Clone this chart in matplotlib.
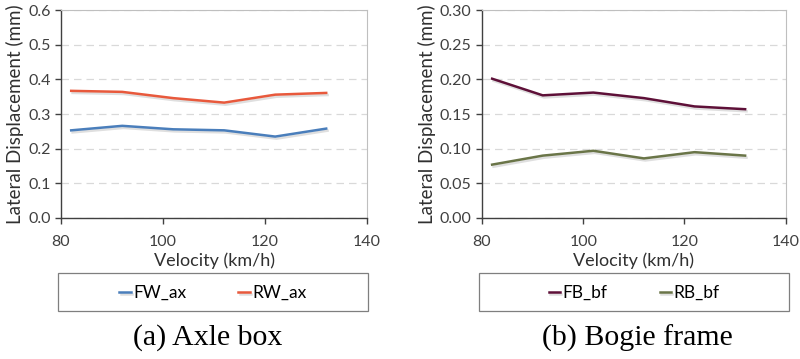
import matplotlib as mpl
mpl.use("agg")
import matplotlib.pyplot as plt
import matplotlib.patheffects as pe
from matplotlib.patches import Rectangle

velocity = [82, 92, 102, 112, 122, 132]

fw_ax = [0.253, 0.266, 0.256, 0.253, 0.235, 0.258]
rw_ax = [0.367, 0.364, 0.346, 0.333, 0.356, 0.361]

fb_bf = [0.201, 0.177, 0.181, 0.173, 0.161, 0.157]
rb_bf = [0.077, 0.090, 0.097, 0.086, 0.095, 0.090]

plt.rcParams['font.family'] = ['Lato', 'DejaVu Sans']

fig = plt.figure(figsize=(8, 3.59), dpi=100)

shadow = [pe.SimpleLineShadow(offset=(1, -1.5), alpha=0.25, shadow_color='gray'), pe.Normal()]


def style_axes(ax, yticks, fmt):
    ax.set_xlim(80, 140)
    ax.set_xticks([80, 100, 120, 140])
    ax.set_ylim(yticks[0], yticks[-1])
    ax.set_yticks(yticks)
    ax.set_yticklabels([fmt % v for v in yticks])
    ax.tick_params(labelsize=11.5, colors='#404040', length=4, width=1, direction='out')
    ax.tick_params(axis='x', pad=8)
    for s in ['top', 'right']:
        ax.spines[s].set_color('#bfbfbf')
        ax.spines[s].set_linewidth(0.8)
    for s in ['left', 'bottom']:
        ax.spines[s].set_color('#404040')
        ax.spines[s].set_linewidth(1)
    ax.grid(axis='y', color='#d9d9d9', linestyle=(0, (6, 4)), linewidth=0.9)
    ax.set_axisbelow(True)
    ax.set_xlabel('Velocity (km/h)', fontsize=13, color='#303030', labelpad=3)
    ax.set_ylabel('Lateral Displacement (mm)', fontsize=13.5, color='#303030', labelpad=3)


def legend_box(x0, handles, labels):
    fig.patches.append(Rectangle((x0, 0.1337), 0.3875, 0.106, transform=fig.transFigure,
                                 facecolor='white', edgecolor='#7f7f7f', linewidth=0.9))
    fig.legend(handles, labels, loc='center', bbox_to_anchor=(x0 + 0.3875 / 2, 0.184),
               ncol=2, frameon=False, fontsize=12.5, handlelength=0.65, handletextpad=0.15,
               columnspacing=3.0)


ax1 = fig.add_axes([0.07625, 0.3928, 0.3825, 0.579])
l1, = ax1.plot(velocity, fw_ax, color='#4a7ebb', lw=1.8, path_effects=shadow)
l2, = ax1.plot(velocity, rw_ax, color='#e8593c', lw=1.8, path_effects=shadow)
style_axes(ax1, [0.0, 0.1, 0.2, 0.3, 0.4, 0.5, 0.6], '%.1f')
legend_box(0.0725, [l1, l2], ['FW_ax', 'RW_ax'])

ax2 = fig.add_axes([0.6025, 0.3928, 0.3795, 0.579])
l3, = ax2.plot(velocity, fb_bf, color='#5e1038', lw=1.8, path_effects=shadow)
l4, = ax2.plot(velocity, rb_bf, color='#6a7548', lw=1.8, path_effects=shadow)
style_axes(ax2, [0.00, 0.05, 0.10, 0.15, 0.20, 0.25, 0.30], '%.2f')
legend_box(0.599, [l3, l4], ['FB_bf', 'RB_bf'])

fig.text(0.259, 0.0585, '(a) Axle box', ha='center', va='center', fontsize=21.5,
         family='Liberation Serif')
fig.text(0.797, 0.0585, '(b) Bogie frame', ha='center', va='center', fontsize=21.5,
         family='Liberation Serif')

fig.savefig('out.png', dpi=100)
